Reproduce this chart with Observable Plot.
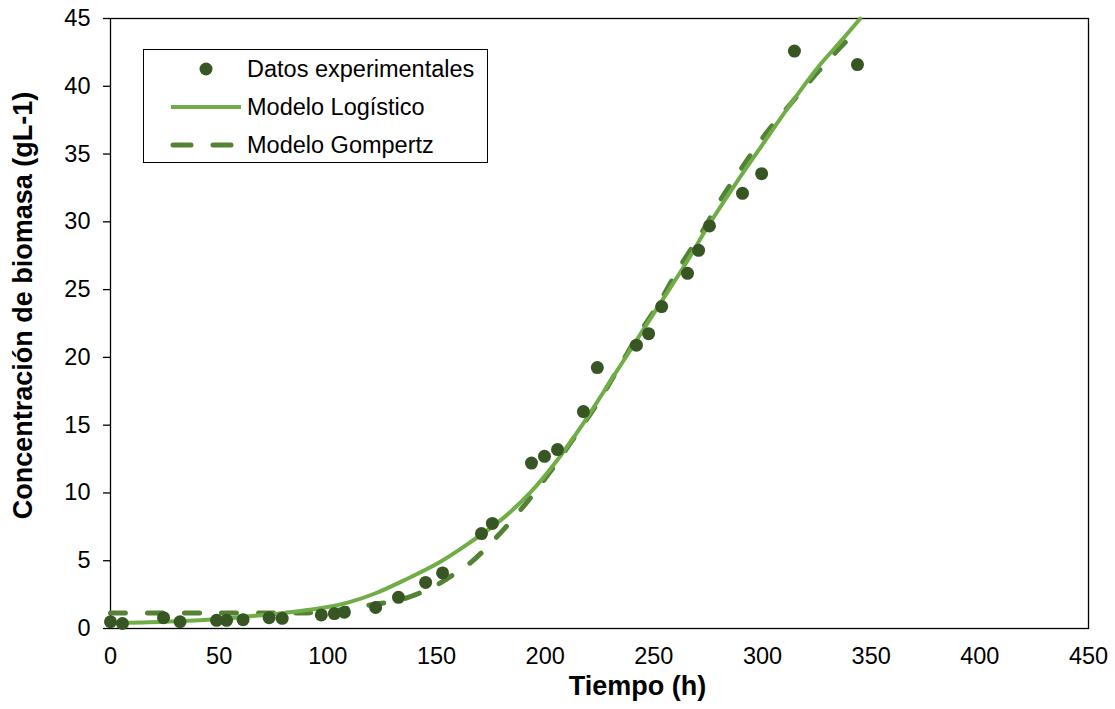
<!DOCTYPE html>
<html>
<head>
<meta charset="utf-8">
<script src="https://cdn.jsdelivr.net/npm/d3@7"></script>
<script src="https://cdn.jsdelivr.net/npm/@observablehq/plot@0.6"></script>
<style>
  html, body { margin: 0; padding: 0; background: #fff; }
  #wrap { position: relative; width: 1115px; height: 709px; font-family: "Liberation Sans", Arial, sans-serif; }
  #legend { position: absolute; left: 143px; top: 49px; width: 345px; height: 114px; border: 1.3px solid #000; background: #fff; box-sizing: border-box; }
  .row { position: absolute; left: 0; height: 30px; display: flex; align-items: center; font-size: 23.5px; color: #000; white-space: nowrap; }
  .row svg { margin-left: 25px; margin-right: 6px; }
</style>
</head>
<body>
<div id="wrap"></div>
<script>
// Experimental data
const tiempo = [0, 5.5, 24.4, 32, 48.8, 53.4, 61, 73, 79, 97, 103, 107.6, 122, 132.5, 145, 152.8, 170.7, 175.7, 193.7, 199.7, 205.7, 217.6, 224, 242, 247.6, 253.6, 265.5, 270.6, 275.6, 290.8, 299.6, 314.7, 343.7];
const biomasa = [0.5, 0.37, 0.8, 0.5, 0.6, 0.6, 0.65, 0.8, 0.75, 1.0, 1.1, 1.2, 1.55, 2.3, 3.4, 4.1, 7.0, 7.75, 12.2, 12.7, 13.2, 16.0, 19.25, 20.9, 21.75, 23.75, 26.2, 27.9, 29.7, 32.1, 33.55, 42.6, 41.6];

// Logistic model
const logX = [0, 25, 50, 64, 80, 95, 110, 122, 135, 151, 165, 180, 193, 205, 217, 231, 241, 253, 265, 275, 288, 300, 313, 325, 337, 345];
const logY = [0.4, 0.5, 0.7, 0.9, 1.15, 1.45, 1.95, 2.6, 3.55, 4.85, 6.3, 8.05, 10.0, 12.3, 15.0, 18.5, 21.0, 24.0, 27.0, 29.7, 32.9, 35.7, 38.7, 41.3, 43.5, 45.0];

// Gompertz model
const gomX = [0, 25, 50, 75, 90, 100, 110, 120, 133, 142, 150, 158, 166, 178, 191, 202, 213, 224, 233, 243, 252, 262, 272, 281, 291, 302, 314, 326, 339, 345];
const gomY = [1.15, 1.15, 1.15, 1.15, 1.15, 1.25, 1.5, 1.75, 2.1, 2.6, 3.2, 4.0, 4.9, 6.8, 9.2, 11.5, 14.0, 16.6, 19.0, 21.7, 23.9, 26.7, 29.2, 31.7, 34.1, 36.6, 38.9, 41.15, 43.4, 44.3];

const xTicks = [0, 50, 100, 150, 200, 250, 300, 350, 400, 450];
const yTicks = [0, 5, 10, 15, 20, 25, 30, 35, 40, 45];

const seriesNames = ["Datos experimentales", "Modelo Logístico", "Modelo Gompertz"];
const colors = { points: "#375623", logistic: "#70AD47", gompertz: "#548235" };

const datos = tiempo.map((t, i) => ({ t, b: biomasa[i] }));
const logistico = logX.map((t, i) => ({ t, b: logY[i] }));
const gompertz = gomX.map((t, i) => ({ t, b: gomY[i] }));

const chart = Plot.plot({
  width: 1115,
  height: 709,
  marginLeft: 110,
  marginRight: 27,
  marginTop: 18,
  marginBottom: 81,
  style: { fontFamily: "'Liberation Sans', Arial, sans-serif", fontSize: "23.5px", color: "#000", background: "#fff", overflow: "visible" },
  x: { domain: [0, 450], ticks: xTicks, label: null },
  y: { domain: [0, 45], ticks: yTicks, label: null },
  marks: [
    Plot.frame({ stroke: "#000", strokeWidth: 1.3 }),
    Plot.axisX({ ticks: xTicks, tickSize: 0, tickPadding: 19, fontSize: 23.5, label: null }),
    Plot.axisY({ ticks: yTicks, tickSize: 7, tickPadding: 13, fontSize: 23.5, label: null, strokeWidth: 1.3 }),
    Plot.line(gompertz, { x: "t", y: "b", stroke: colors.gompertz, strokeWidth: 5, strokeDasharray: "15,22", strokeLinecap: "round", curve: "catmull-rom" }),
    Plot.line(logistico, { x: "t", y: "b", stroke: colors.logistic, strokeWidth: 4, curve: "catmull-rom" }),
    Plot.dot(datos, { x: "t", y: "b", r: 6.5, fill: colors.points, stroke: "none" }),
    Plot.text(["Tiempo (h)"], { frameAnchor: "bottom", dx: 38, dy: 66, fontSize: 27, fontWeight: "bold", textAnchor: "middle", text: d => d }),
    Plot.text(["Concentración de biomasa (gL-1)"], { frameAnchor: "left", dx: -87, dy: -18, rotate: -90, fontSize: 27, fontWeight: "bold", textAnchor: "middle", text: d => d })
  ]
});

const wrap = document.getElementById("wrap");
wrap.appendChild(chart);

// Legend
const legend = document.createElement("div");
legend.id = "legend";
const rowTops = [4, 42, 80];
seriesNames.forEach((name, i) => {
  const row = document.createElement("div");
  row.className = "row";
  row.style.top = rowTops[i] + "px";
  let sw;
  if (i === 0) sw = `<svg width="72" height="20"><circle cx="37" cy="10" r="6.5" fill="${colors.points}"/></svg>`;
  else if (i === 1) sw = `<svg width="72" height="20"><line x1="2" y1="10" x2="72" y2="10" stroke="${colors.logistic}" stroke-width="4"/></svg>`;
  else sw = `<svg width="72" height="20"><line x1="4" y1="10" x2="70" y2="10" stroke="${colors.gompertz}" stroke-width="5" stroke-linecap="round" stroke-dasharray="18,22"/></svg>`;
  row.innerHTML = sw + `<span>${name}</span>`;
  legend.appendChild(row);
});
wrap.appendChild(legend);
</script>
</body>
</html>
